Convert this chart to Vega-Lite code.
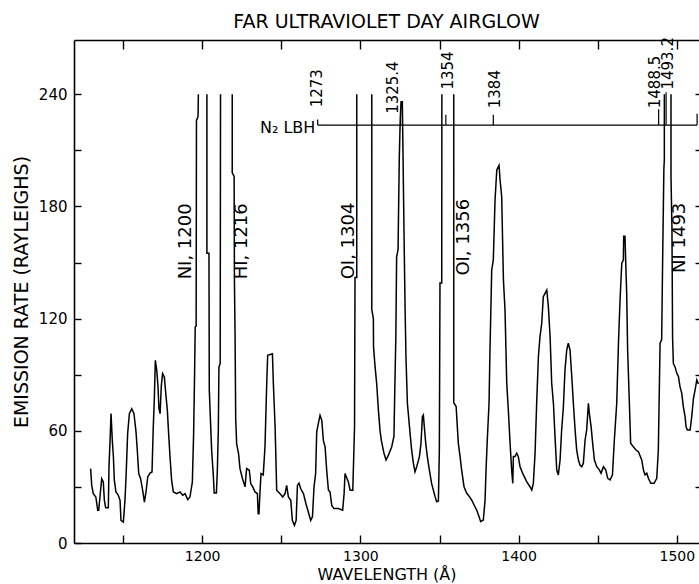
{
  "$schema": "https://vega.github.io/schema/vega-lite/v6.json",
  "width": 625,
  "height": 503,
  "autosize": {"type": "none"},
  "padding": {"left": 74, "top": 40, "right": 0, "bottom": 41},
  "background": "white",
  "config": {
    "view": {"stroke": null},
    "font": "DejaVu Sans",
    "axis": {"domainColor": "black", "tickColor": "black", "labelColor": "black", "titleColor": "black", "domainWidth": 1.6, "tickWidth": 1.4, "grid": false, "labelFont": "DejaVu Sans", "titleFont": "DejaVu Sans", "titleFontWeight": "normal"}
  },
  "title": {"text": "FAR ULTRAVIOLET DAY AIRGLOW", "fontSize": 19, "fontWeight": "normal", "font": "DejaVu Sans", "color": "black", "anchor": "middle", "frame": "group", "offset": 5},
  "datasets": {
    "spectrum": [
      {"wl": 1129.5, "rate": 39.8, "seg": 1}, {"wl": 1130.2, "rate": 30.8, "seg": 1}, {"wl": 1131.2, "rate": 26.4, "seg": 1}, {"wl": 1132.8, "rate": 24.6, "seg": 1},
      {"wl": 1134.0, "rate": 17.5, "seg": 1}, {"wl": 1134.6, "rate": 17.5, "seg": 1}, {"wl": 1135.4, "rate": 24.6, "seg": 1}, {"wl": 1136.5, "rate": 34.4, "seg": 1},
      {"wl": 1137.5, "rate": 32.6, "seg": 1}, {"wl": 1138.2, "rate": 22.8, "seg": 1}, {"wl": 1139.0, "rate": 18.9, "seg": 1}, {"wl": 1140.7, "rate": 18.9, "seg": 1},
      {"wl": 1141.1, "rate": 40.6, "seg": 1}, {"wl": 1141.8, "rate": 54.9, "seg": 1}, {"wl": 1142.4, "rate": 69.2, "seg": 1}, {"wl": 1143.2, "rate": 54.9, "seg": 1},
      {"wl": 1143.9, "rate": 46.0, "seg": 1}, {"wl": 1144.5, "rate": 33.5, "seg": 1}, {"wl": 1145.5, "rate": 27.3, "seg": 1}, {"wl": 1147.0, "rate": 25.5, "seg": 1},
      {"wl": 1148.1, "rate": 22.8, "seg": 1}, {"wl": 1148.7, "rate": 12.1, "seg": 1}, {"wl": 1150.2, "rate": 11.2, "seg": 1}, {"wl": 1151.2, "rate": 22.8, "seg": 1},
      {"wl": 1151.9, "rate": 35.3, "seg": 1}, {"wl": 1152.9, "rate": 58.5, "seg": 1}, {"wl": 1154.0, "rate": 69.2, "seg": 1}, {"wl": 1155.5, "rate": 71.8, "seg": 1},
      {"wl": 1156.9, "rate": 69.2, "seg": 1}, {"wl": 1158.2, "rate": 59.4, "seg": 1}, {"wl": 1159.0, "rate": 49.6, "seg": 1}, {"wl": 1159.9, "rate": 37.1, "seg": 1},
      {"wl": 1161.1, "rate": 34.4, "seg": 1}, {"wl": 1162.4, "rate": 28.2, "seg": 1}, {"wl": 1163.5, "rate": 21.9, "seg": 1}, {"wl": 1164.5, "rate": 27.3, "seg": 1},
      {"wl": 1165.6, "rate": 35.3, "seg": 1}, {"wl": 1167.0, "rate": 37.4, "seg": 1}, {"wl": 1168.3, "rate": 38.0, "seg": 1}, {"wl": 1169.1, "rate": 62.0, "seg": 1},
      {"wl": 1169.8, "rate": 78.0, "seg": 1}, {"wl": 1170.4, "rate": 97.7, "seg": 1}, {"wl": 1171.3, "rate": 92.3, "seg": 1}, {"wl": 1172.1, "rate": 83.4, "seg": 1},
      {"wl": 1172.7, "rate": 71.8, "seg": 1}, {"wl": 1173.4, "rate": 69.2, "seg": 1}, {"wl": 1174.2, "rate": 84.3, "seg": 1}, {"wl": 1175.0, "rate": 90.6, "seg": 1},
      {"wl": 1176.1, "rate": 88.8, "seg": 1}, {"wl": 1177.2, "rate": 78.0, "seg": 1}, {"wl": 1178.0, "rate": 71.0, "seg": 1}, {"wl": 1178.8, "rate": 58.5, "seg": 1},
      {"wl": 1179.7, "rate": 46.0, "seg": 1}, {"wl": 1180.7, "rate": 33.5, "seg": 1}, {"wl": 1181.8, "rate": 27.3, "seg": 1}, {"wl": 1183.9, "rate": 26.4, "seg": 1},
      {"wl": 1186.0, "rate": 27.3, "seg": 1}, {"wl": 1187.7, "rate": 25.5, "seg": 1}, {"wl": 1189.2, "rate": 26.4, "seg": 1}, {"wl": 1190.9, "rate": 23.2, "seg": 1},
      {"wl": 1192.3, "rate": 24.6, "seg": 1}, {"wl": 1193.8, "rate": 32.6, "seg": 1}, {"wl": 1194.6, "rate": 58.5, "seg": 1}, {"wl": 1195.2, "rate": 90.0, "seg": 1},
      {"wl": 1195.6, "rate": 115.5, "seg": 1}, {"wl": 1196.2, "rate": 116.0, "seg": 1}, {"wl": 1196.4, "rate": 226.0, "seg": 1}, {"wl": 1197.4, "rate": 228.0, "seg": 1},
      {"wl": 1197.6, "rate": 240.0, "seg": 1},

      {"wl": 1203.0, "rate": 240.0, "seg": 2}, {"wl": 1203.0, "rate": 155.0, "seg": 2}, {"wl": 1204.3, "rate": 155.0, "seg": 2}, {"wl": 1204.5, "rate": 82.0, "seg": 2},
      {"wl": 1205.5, "rate": 60.0, "seg": 2}, {"wl": 1206.0, "rate": 49.6, "seg": 2}, {"wl": 1207.1, "rate": 35.3, "seg": 2}, {"wl": 1207.6, "rate": 26.7, "seg": 2},
      {"wl": 1209.0, "rate": 26.7, "seg": 2}, {"wl": 1209.6, "rate": 38.9, "seg": 2}, {"wl": 1210.2, "rate": 60.0, "seg": 2}, {"wl": 1210.6, "rate": 94.0, "seg": 2},
      {"wl": 1211.4, "rate": 96.0, "seg": 2}, {"wl": 1211.6, "rate": 240.0, "seg": 2},

      {"wl": 1219.0, "rate": 240.0, "seg": 3}, {"wl": 1219.0, "rate": 198.0, "seg": 3}, {"wl": 1220.2, "rate": 196.0, "seg": 3}, {"wl": 1220.4, "rate": 140.0, "seg": 3},
      {"wl": 1220.8, "rate": 111.0, "seg": 3}, {"wl": 1221.2, "rate": 66.0, "seg": 3}, {"wl": 1221.8, "rate": 53.0, "seg": 3}, {"wl": 1223.0, "rate": 47.8, "seg": 3},
      {"wl": 1223.9, "rate": 39.8, "seg": 3}, {"wl": 1225.5, "rate": 34.4, "seg": 3}, {"wl": 1227.1, "rate": 30.0, "seg": 3}, {"wl": 1228.1, "rate": 39.8, "seg": 3},
      {"wl": 1229.8, "rate": 38.9, "seg": 3}, {"wl": 1230.7, "rate": 31.7, "seg": 3}, {"wl": 1232.0, "rate": 30.0, "seg": 3}, {"wl": 1233.4, "rate": 27.3, "seg": 3},
      {"wl": 1234.9, "rate": 26.4, "seg": 3}, {"wl": 1235.4, "rate": 15.7, "seg": 3}, {"wl": 1235.9, "rate": 15.7, "seg": 3}, {"wl": 1236.5, "rate": 26.4, "seg": 3},
      {"wl": 1237.2, "rate": 37.1, "seg": 3}, {"wl": 1238.6, "rate": 36.4, "seg": 3}, {"wl": 1239.7, "rate": 51.3, "seg": 3}, {"wl": 1240.8, "rate": 85.2, "seg": 3},
      {"wl": 1241.4, "rate": 100.4, "seg": 3}, {"wl": 1244.4, "rate": 101.2, "seg": 3}, {"wl": 1245.0, "rate": 85.2, "seg": 3}, {"wl": 1246.1, "rate": 62.0, "seg": 3},
      {"wl": 1247.1, "rate": 28.2, "seg": 3}, {"wl": 1249.2, "rate": 26.4, "seg": 3}, {"wl": 1250.9, "rate": 24.6, "seg": 3}, {"wl": 1252.4, "rate": 26.4, "seg": 3},
      {"wl": 1253.4, "rate": 30.8, "seg": 3}, {"wl": 1254.5, "rate": 24.6, "seg": 3}, {"wl": 1256.0, "rate": 22.8, "seg": 3}, {"wl": 1257.0, "rate": 12.1, "seg": 3},
      {"wl": 1258.3, "rate": 9.4, "seg": 3}, {"wl": 1259.4, "rate": 12.1, "seg": 3}, {"wl": 1260.2, "rate": 30.8, "seg": 3}, {"wl": 1261.2, "rate": 32.0, "seg": 3},
      {"wl": 1262.3, "rate": 29.0, "seg": 3}, {"wl": 1264.0, "rate": 26.4, "seg": 3}, {"wl": 1265.6, "rate": 21.0, "seg": 3}, {"wl": 1267.1, "rate": 16.6, "seg": 3},
      {"wl": 1268.6, "rate": 12.1, "seg": 3}, {"wl": 1269.7, "rate": 14.0, "seg": 3}, {"wl": 1270.7, "rate": 30.0, "seg": 3}, {"wl": 1271.7, "rate": 37.0, "seg": 3},
      {"wl": 1272.4, "rate": 59.4, "seg": 3}, {"wl": 1273.4, "rate": 63.8, "seg": 3}, {"wl": 1274.5, "rate": 68.3, "seg": 3}, {"wl": 1275.6, "rate": 65.6, "seg": 3},
      {"wl": 1276.6, "rate": 54.9, "seg": 3}, {"wl": 1277.7, "rate": 51.3, "seg": 3}, {"wl": 1278.7, "rate": 38.9, "seg": 3}, {"wl": 1279.8, "rate": 28.2, "seg": 3},
      {"wl": 1280.8, "rate": 27.3, "seg": 3}, {"wl": 1281.9, "rate": 20.1, "seg": 3}, {"wl": 1283.3, "rate": 18.4, "seg": 3}, {"wl": 1286.1, "rate": 18.4, "seg": 3},
      {"wl": 1288.8, "rate": 17.5, "seg": 3}, {"wl": 1289.7, "rate": 26.4, "seg": 3}, {"wl": 1290.3, "rate": 37.1, "seg": 3}, {"wl": 1291.4, "rate": 34.8, "seg": 3},
      {"wl": 1292.4, "rate": 32.6, "seg": 3}, {"wl": 1293.5, "rate": 28.2, "seg": 3}, {"wl": 1295.2, "rate": 28.2, "seg": 3}, {"wl": 1295.6, "rate": 40.6, "seg": 3},
      {"wl": 1296.3, "rate": 62.0, "seg": 3}, {"wl": 1296.6, "rate": 142.0, "seg": 3}, {"wl": 1297.7, "rate": 142.0, "seg": 3}, {"wl": 1297.7, "rate": 240.0, "seg": 3},

      {"wl": 1307.2, "rate": 240.0, "seg": 4}, {"wl": 1307.2, "rate": 125.0, "seg": 4}, {"wl": 1308.2, "rate": 120.0, "seg": 4}, {"wl": 1308.3, "rate": 105.0, "seg": 4},
      {"wl": 1309.2, "rate": 95.0, "seg": 4}, {"wl": 1310.3, "rate": 85.2, "seg": 4}, {"wl": 1311.3, "rate": 72.0, "seg": 4}, {"wl": 1312.4, "rate": 60.2, "seg": 4},
      {"wl": 1313.2, "rate": 55.0, "seg": 4}, {"wl": 1314.9, "rate": 48.0, "seg": 4}, {"wl": 1316.2, "rate": 44.4, "seg": 4}, {"wl": 1317.7, "rate": 47.0, "seg": 4},
      {"wl": 1319.8, "rate": 51.5, "seg": 4}, {"wl": 1321.2, "rate": 57.0, "seg": 4}, {"wl": 1321.9, "rate": 89.0, "seg": 4}, {"wl": 1322.4, "rate": 110.0, "seg": 4},
      {"wl": 1322.9, "rate": 153.0, "seg": 4}, {"wl": 1323.8, "rate": 157.0, "seg": 4}, {"wl": 1324.6, "rate": 207.0, "seg": 4}, {"wl": 1325.2, "rate": 227.0, "seg": 4},
      {"wl": 1325.7, "rate": 236.0, "seg": 4}, {"wl": 1326.5, "rate": 236.0, "seg": 4}, {"wl": 1326.9, "rate": 210.0, "seg": 4}, {"wl": 1327.6, "rate": 164.0, "seg": 4},
      {"wl": 1328.2, "rate": 128.0, "seg": 4}, {"wl": 1328.8, "rate": 99.6, "seg": 4}, {"wl": 1329.7, "rate": 74.7, "seg": 4}, {"wl": 1331.4, "rate": 58.6, "seg": 4},
      {"wl": 1332.4, "rate": 49.7, "seg": 4}, {"wl": 1333.5, "rate": 42.6, "seg": 4}, {"wl": 1334.5, "rate": 38.1, "seg": 4}, {"wl": 1335.6, "rate": 40.8, "seg": 4},
      {"wl": 1337.3, "rate": 46.2, "seg": 4}, {"wl": 1338.3, "rate": 53.3, "seg": 4}, {"wl": 1339.2, "rate": 67.6, "seg": 4}, {"wl": 1339.8, "rate": 68.4, "seg": 4},
      {"wl": 1340.4, "rate": 62.2, "seg": 4}, {"wl": 1341.3, "rate": 53.3, "seg": 4}, {"wl": 1342.3, "rate": 46.2, "seg": 4}, {"wl": 1343.6, "rate": 39.0, "seg": 4},
      {"wl": 1345.0, "rate": 31.9, "seg": 4}, {"wl": 1346.1, "rate": 28.3, "seg": 4}, {"wl": 1347.2, "rate": 24.8, "seg": 4}, {"wl": 1348.2, "rate": 22.1, "seg": 4},
      {"wl": 1349.3, "rate": 22.5, "seg": 4}, {"wl": 1349.9, "rate": 49.7, "seg": 4}, {"wl": 1350.3, "rate": 139.0, "seg": 4}, {"wl": 1351.4, "rate": 139.0, "seg": 4},
      {"wl": 1351.5, "rate": 240.0, "seg": 4},

      {"wl": 1359.0, "rate": 240.0, "seg": 5}, {"wl": 1359.0, "rate": 75.0, "seg": 5}, {"wl": 1360.5, "rate": 73.0, "seg": 5}, {"wl": 1361.9, "rate": 53.3, "seg": 5},
      {"wl": 1363.0, "rate": 46.2, "seg": 5}, {"wl": 1364.0, "rate": 39.0, "seg": 5}, {"wl": 1365.5, "rate": 30.1, "seg": 5}, {"wl": 1367.2, "rate": 26.6, "seg": 5},
      {"wl": 1368.9, "rate": 24.8, "seg": 5}, {"wl": 1370.3, "rate": 23.0, "seg": 5}, {"wl": 1372.4, "rate": 19.4, "seg": 5}, {"wl": 1373.5, "rate": 17.6, "seg": 5},
      {"wl": 1375.0, "rate": 14.1, "seg": 5}, {"wl": 1376.0, "rate": 11.4, "seg": 5}, {"wl": 1377.7, "rate": 12.3, "seg": 5}, {"wl": 1378.8, "rate": 23.0, "seg": 5},
      {"wl": 1379.4, "rate": 39.0, "seg": 5}, {"wl": 1380.2, "rate": 55.1, "seg": 5}, {"wl": 1381.3, "rate": 74.7, "seg": 5}, {"wl": 1381.9, "rate": 103.2, "seg": 5},
      {"wl": 1383.0, "rate": 146.0, "seg": 5}, {"wl": 1384.0, "rate": 151.3, "seg": 5}, {"wl": 1385.1, "rate": 183.4, "seg": 5}, {"wl": 1386.2, "rate": 199.5, "seg": 5},
      {"wl": 1387.6, "rate": 202.0, "seg": 5}, {"wl": 1388.3, "rate": 194.0, "seg": 5}, {"wl": 1389.3, "rate": 185.2, "seg": 5}, {"wl": 1390.4, "rate": 140.6, "seg": 5},
      {"wl": 1391.4, "rate": 124.6, "seg": 5}, {"wl": 1392.5, "rate": 85.4, "seg": 5}, {"wl": 1393.5, "rate": 71.1, "seg": 5}, {"wl": 1394.6, "rate": 53.3, "seg": 5},
      {"wl": 1395.6, "rate": 39.0, "seg": 5}, {"wl": 1396.3, "rate": 31.9, "seg": 5}, {"wl": 1396.7, "rate": 46.2, "seg": 5}, {"wl": 1397.7, "rate": 46.2, "seg": 5},
      {"wl": 1398.8, "rate": 48.0, "seg": 5}, {"wl": 1399.8, "rate": 46.2, "seg": 5}, {"wl": 1400.9, "rate": 40.8, "seg": 5}, {"wl": 1403.0, "rate": 36.4, "seg": 5},
      {"wl": 1405.1, "rate": 32.8, "seg": 5}, {"wl": 1407.2, "rate": 30.1, "seg": 5}, {"wl": 1408.3, "rate": 28.3, "seg": 5}, {"wl": 1409.3, "rate": 31.9, "seg": 5},
      {"wl": 1410.4, "rate": 48.0, "seg": 5}, {"wl": 1411.4, "rate": 74.7, "seg": 5}, {"wl": 1412.5, "rate": 99.6, "seg": 5}, {"wl": 1413.5, "rate": 110.3, "seg": 5},
      {"wl": 1414.6, "rate": 117.5, "seg": 5}, {"wl": 1415.6, "rate": 131.7, "seg": 5}, {"wl": 1416.7, "rate": 133.5, "seg": 5}, {"wl": 1417.8, "rate": 135.3, "seg": 5},
      {"wl": 1418.8, "rate": 126.4, "seg": 5}, {"wl": 1419.9, "rate": 110.3, "seg": 5}, {"wl": 1420.9, "rate": 85.4, "seg": 5}, {"wl": 1422.0, "rate": 74.7, "seg": 5},
      {"wl": 1423.0, "rate": 56.9, "seg": 5}, {"wl": 1424.1, "rate": 39.0, "seg": 5}, {"wl": 1425.1, "rate": 36.4, "seg": 5}, {"wl": 1426.2, "rate": 44.4, "seg": 5},
      {"wl": 1427.2, "rate": 60.4, "seg": 5}, {"wl": 1428.3, "rate": 72.9, "seg": 5}, {"wl": 1429.3, "rate": 92.5, "seg": 5}, {"wl": 1430.4, "rate": 103.2, "seg": 5},
      {"wl": 1431.4, "rate": 106.8, "seg": 5}, {"wl": 1432.5, "rate": 103.2, "seg": 5}, {"wl": 1433.6, "rate": 88.9, "seg": 5}, {"wl": 1434.6, "rate": 74.7, "seg": 5},
      {"wl": 1435.7, "rate": 60.4, "seg": 5}, {"wl": 1436.7, "rate": 49.7, "seg": 5}, {"wl": 1437.8, "rate": 44.4, "seg": 5}, {"wl": 1438.8, "rate": 41.7, "seg": 5},
      {"wl": 1439.9, "rate": 40.8, "seg": 5}, {"wl": 1440.9, "rate": 42.6, "seg": 5}, {"wl": 1442.0, "rate": 55.1, "seg": 5}, {"wl": 1443.0, "rate": 60.4, "seg": 5},
      {"wl": 1444.1, "rate": 74.7, "seg": 5}, {"wl": 1444.7, "rate": 69.3, "seg": 5}, {"wl": 1445.8, "rate": 62.2, "seg": 5}, {"wl": 1446.8, "rate": 53.3, "seg": 5},
      {"wl": 1447.9, "rate": 44.4, "seg": 5}, {"wl": 1449.4, "rate": 40.8, "seg": 5}, {"wl": 1451.1, "rate": 39.0, "seg": 5}, {"wl": 1452.1, "rate": 37.3, "seg": 5},
      {"wl": 1453.6, "rate": 40.8, "seg": 5}, {"wl": 1455.1, "rate": 39.0, "seg": 5}, {"wl": 1456.3, "rate": 34.6, "seg": 5}, {"wl": 1457.8, "rate": 33.7, "seg": 5},
      {"wl": 1459.3, "rate": 36.4, "seg": 5}, {"wl": 1460.5, "rate": 55.1, "seg": 5}, {"wl": 1462.0, "rate": 74.7, "seg": 5}, {"wl": 1463.1, "rate": 106.8, "seg": 5},
      {"wl": 1464.1, "rate": 130.0, "seg": 5}, {"wl": 1465.2, "rate": 149.6, "seg": 5}, {"wl": 1466.2, "rate": 151.3, "seg": 5}, {"wl": 1466.4, "rate": 164.0, "seg": 5},
      {"wl": 1467.2, "rate": 164.0, "seg": 5}, {"wl": 1467.7, "rate": 150.0, "seg": 5}, {"wl": 1468.3, "rate": 133.5, "seg": 5}, {"wl": 1468.9, "rate": 103.2, "seg": 5},
      {"wl": 1470.0, "rate": 74.7, "seg": 5}, {"wl": 1470.8, "rate": 53.3, "seg": 5}, {"wl": 1472.5, "rate": 51.5, "seg": 5}, {"wl": 1474.2, "rate": 49.7, "seg": 5},
      {"wl": 1475.7, "rate": 48.8, "seg": 5}, {"wl": 1477.8, "rate": 44.4, "seg": 5}, {"wl": 1478.9, "rate": 39.0, "seg": 5}, {"wl": 1479.9, "rate": 36.4, "seg": 5},
      {"wl": 1481.0, "rate": 37.3, "seg": 5}, {"wl": 1482.0, "rate": 34.6, "seg": 5}, {"wl": 1483.5, "rate": 31.9, "seg": 5}, {"wl": 1485.6, "rate": 31.9, "seg": 5},
      {"wl": 1487.3, "rate": 34.6, "seg": 5}, {"wl": 1488.3, "rate": 49.7, "seg": 5}, {"wl": 1489.4, "rate": 106.8, "seg": 5}, {"wl": 1490.4, "rate": 108.6, "seg": 5},
      {"wl": 1491.1, "rate": 156.7, "seg": 5}, {"wl": 1491.8, "rate": 200.0, "seg": 5}, {"wl": 1492.1, "rate": 205.0, "seg": 5}, {"wl": 1492.1, "rate": 240.0, "seg": 5},

      {"wl": 1496.3, "rate": 240.0, "seg": 6}, {"wl": 1496.3, "rate": 196.0, "seg": 6}, {"wl": 1496.9, "rate": 169.0, "seg": 6}, {"wl": 1497.3, "rate": 110.0, "seg": 6},
      {"wl": 1497.8, "rate": 96.0, "seg": 6}, {"wl": 1498.8, "rate": 94.3, "seg": 6}, {"wl": 1499.9, "rate": 91.0, "seg": 6}, {"wl": 1501.0, "rate": 89.0, "seg": 6},
      {"wl": 1502.0, "rate": 83.6, "seg": 6}, {"wl": 1503.1, "rate": 80.0, "seg": 6}, {"wl": 1504.1, "rate": 72.9, "seg": 6}, {"wl": 1505.2, "rate": 67.6, "seg": 6},
      {"wl": 1505.8, "rate": 62.2, "seg": 6}, {"wl": 1506.7, "rate": 60.4, "seg": 6}, {"wl": 1508.4, "rate": 60.4, "seg": 6}, {"wl": 1509.4, "rate": 67.6, "seg": 6},
      {"wl": 1510.5, "rate": 77.4, "seg": 6}, {"wl": 1511.5, "rate": 81.8, "seg": 6}, {"wl": 1512.6, "rate": 87.2, "seg": 6}, {"wl": 1513.6, "rate": 85.0, "seg": 6}
    ],
    "lbh": [{"wl": 1273, "wl2": 1512.8, "rate": 223.5}],
    "bandticks": [
      {"wl": 1273, "lo": 223.5, "hi": 226.5},
      {"wl": 1325.4, "lo": 223.5, "hi": 231},
      {"wl": 1354, "lo": 223.5, "hi": 229},
      {"wl": 1384, "lo": 223.5, "hi": 229},
      {"wl": 1488.5, "lo": 223.5, "hi": 232},
      {"wl": 1493.2, "lo": 223.5, "hi": 241},
      {"wl": 1512.8, "lo": 223.5, "hi": 229.5}
    ],
    "bandlabels": [
      {"wl": 1272.5, "rate": 233, "label": "1273"},
      {"wl": 1320.7, "rate": 229.5, "label": "1325.4"},
      {"wl": 1355.6, "rate": 242.5, "label": "1354"},
      {"wl": 1385.1, "rate": 232.5, "label": "1384"},
      {"wl": 1486.3, "rate": 232.5, "label": "1488.5"},
      {"wl": 1494.7, "rate": 242.5, "label": "1493.2"}
    ],
    "linelabels": [
      {"wl": 1189.6, "rate": 141, "label": "NI, 1200"},
      {"wl": 1225.2, "rate": 141, "label": "HI, 1216"},
      {"wl": 1292.5, "rate": 141, "label": "OI, 1304"},
      {"wl": 1365.6, "rate": 143, "label": "OI, 1356"},
      {"wl": 1502.1, "rate": 144.4, "label": "NI 1493"}
    ],
    "lbhlabel": [{"wl": 1271.5, "rate": 219.5, "label": "N₂ LBH"}]
  },
  "resolve": {"axis": {"x": "independent", "y": "independent"}},
  "layer": [
    {
      "data": {"name": "spectrum"},
      "mark": {"type": "line", "color": "black", "strokeWidth": 1.5, "clip": true},
      "encoding": {
        "x": {"field": "wl", "type": "quantitative", "scale": {"domain": [1119, 1514], "nice": false, "zero": false},
          "axis": {"orient": "bottom", "values": [1150, 1200, 1250, 1300, 1350, 1400, 1450, 1500], "format": "d", "labelExpr": "datum.value % 100 === 0 ? datum.label : ''", "tickSize": -8, "labelPadding": 14, "labelFontSize": 14, "labelFlush": false, "labelOverlap": false, "title": "WAVELENGTH (Å)", "titleFontSize": 16, "titlePadding": 3}},
        "y": {"field": "rate", "type": "quantitative", "scale": {"domain": [0, 269], "nice": false, "zero": true},
          "axis": {"orient": "left", "values": [0, 30, 60, 90, 120, 150, 180, 210, 240], "format": "d", "labelExpr": "datum.value % 60 === 0 ? datum.label : ''", "tickSize": -7, "labelPadding": 14, "labelFontSize": 15, "labelFlush": false, "labelOverlap": false, "title": "EMISSION RATE (RAYLEIGHS)", "titleFontSize": 19, "titlePadding": 7}},
        "detail": {"field": "seg", "type": "nominal"},
        "order": {"value": null}
      }
    },
    {
      "data": {"name": "lbh"},
      "mark": {"type": "rule", "color": "black", "strokeWidth": 1.2},
      "encoding": {
        "x": {"field": "wl", "type": "quantitative",
          "axis": {"orient": "top", "values": [1150, 1200, 1250, 1300, 1350, 1400, 1450, 1500], "labels": false, "tickSize": -9, "title": null, "domain": true}},
        "x2": {"field": "wl2"},
        "y": {"field": "rate", "type": "quantitative",
          "axis": {"orient": "right", "values": [30, 60, 90, 120, 150, 180, 210, 240], "labels": false, "tickSize": -4, "domain": false, "title": null}}
      }
    },
    {
      "data": {"name": "bandticks"},
      "mark": {"type": "rule", "color": "black", "strokeWidth": 1.2},
      "encoding": {
        "x": {"field": "wl", "type": "quantitative", "axis": null},
        "y": {"field": "lo", "type": "quantitative", "axis": null},
        "y2": {"field": "hi"}
      }
    },
    {
      "data": {"name": "bandlabels"},
      "mark": {"type": "text", "angle": 270, "align": "left", "baseline": "middle", "fontSize": 15, "color": "black", "font": "DejaVu Sans"},
      "encoding": {
        "x": {"field": "wl", "type": "quantitative", "axis": null},
        "y": {"field": "rate", "type": "quantitative", "axis": null},
        "text": {"field": "label"}
      }
    },
    {
      "data": {"name": "linelabels"},
      "mark": {"type": "text", "angle": 270, "align": "left", "baseline": "middle", "fontSize": 18, "color": "black", "font": "DejaVu Sans"},
      "encoding": {
        "x": {"field": "wl", "type": "quantitative", "axis": null},
        "y": {"field": "rate", "type": "quantitative", "axis": null},
        "text": {"field": "label"}
      }
    },
    {
      "data": {"name": "lbhlabel"},
      "mark": {"type": "text", "align": "right", "baseline": "alphabetic", "fontSize": 16, "color": "black", "font": "DejaVu Sans"},
      "encoding": {
        "x": {"field": "wl", "type": "quantitative", "axis": null},
        "y": {"field": "rate", "type": "quantitative", "axis": null},
        "text": {"field": "label"}
      }
    }
  ]
}
